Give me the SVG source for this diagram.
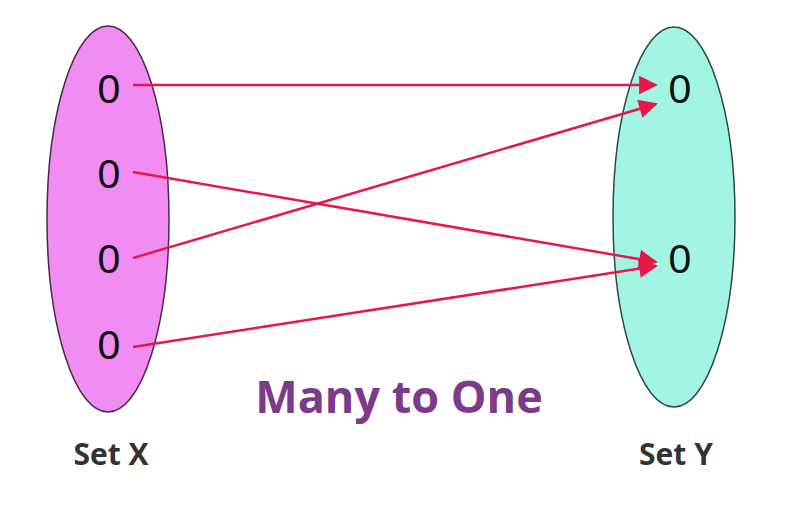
<svg xmlns="http://www.w3.org/2000/svg" width="800" height="512" viewBox="0 0 800 512">
<defs>
<marker id="ah" viewBox="0 0 10 10" refX="9" refY="5" markerWidth="8.5" markerHeight="7.5" markerUnits="strokeWidth" orient="auto">
<path d="M0,0 L10,5 L0,10 z" fill="#e8174a"/>
</marker>
<style>
.el{font-family:"Liberation Sans",Arial,sans-serif;font-size:41px;fill:#111;text-anchor:middle}
.lbl{font-family:"Open Sans","Liberation Sans",sans-serif;font-weight:bold;font-size:30px;fill:#333;text-anchor:middle}
.ln{stroke:#e8174a;stroke-width:2.5;fill:none;marker-end:url(#ah)}
</style>
</defs>
<rect width="800" height="512" fill="#fff"/>
<g id="setX">
<ellipse cx="108" cy="219" rx="61" ry="193" fill="#f08cf2" stroke="#4a2a4a" stroke-width="1.5"/>
<text class="el" x="109" y="103">0</text>
<text class="el" x="109" y="188">0</text>
<text class="el" x="109" y="273">0</text>
<text class="el" x="109" y="359">0</text>
</g>
<g id="setY">
<ellipse cx="674" cy="217" rx="61" ry="190" fill="#a2f5e2" stroke="#2e4a44" stroke-width="1.5"/>
<text class="el" x="680" y="103">0</text>
<text class="el" x="680" y="273">0</text>
</g>
<g id="connectors">
<line class="ln" x1="133" y1="85" x2="656" y2="85"/>
<line class="ln" x1="133" y1="172" x2="656" y2="262"/>
<line class="ln" x1="133" y1="258" x2="656" y2="104"/>
<line class="ln" x1="133" y1="347" x2="656" y2="266"/>
</g>
<text x="399" y="413" font-family="Open Sans,Liberation Sans,sans-serif" font-weight="bold" font-size="45" fill="#7b3a8a" text-anchor="middle">Many to One</text>
<text class="lbl" x="111" y="465">Set X</text>
<text class="lbl" x="676" y="465">Set Y</text>
</svg>
